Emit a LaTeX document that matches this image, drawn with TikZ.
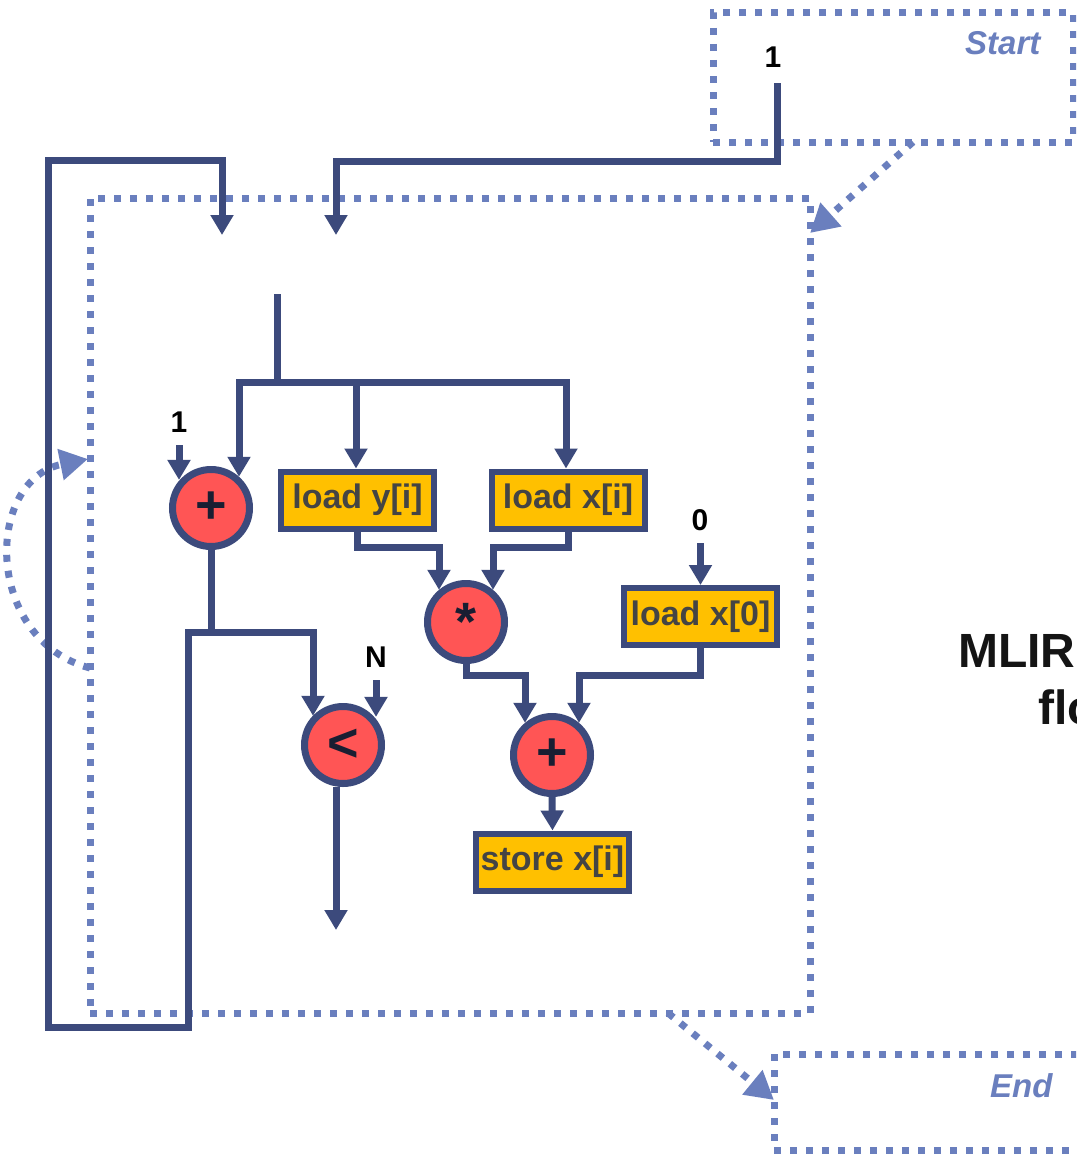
\documentclass[tikz,border=0pt]{standalone}
\usepackage{fontspec}
\setmainfont{Liberation Sans}
\usetikzlibrary{arrows.meta}
\definecolor{navy}{RGB}{60,74,124}
\definecolor{dotblue}{RGB}{106,127,190}
\definecolor{opred}{RGB}{255,85,85}
\definecolor{opyellow}{RGB}{255,192,0}
\definecolor{boxtext}{RGB}{68,68,68}
\definecolor{symcol}{RGB}{25,30,50}
\begin{document}
\begin{tikzpicture}[x=1pt,y=-1pt,
  wire/.style={draw=navy,line width=7pt},
  arr/.style={wire,-{Triangle[width=22pt,length=20pt]}},
  dotline/.style={draw=dotblue,line width=7pt,dash pattern=on 7pt off 9pt},
  dotarr/.style={dotline,-{Triangle[width=30pt,length=28pt]}},
  dotbox/.style={rectangle,dotline,inner sep=0pt},
  op/.style={circle,draw=navy,line width=7pt,fill=opred,minimum size=77pt,inner sep=0pt,text=symcol,font=\fontsize{54}{54}\selectfont\bfseries},
  inst/.style={rectangle,draw=navy,line width=6pt,fill=opyellow,minimum width=153pt,minimum height=57pt,inner sep=0pt,text=boxtext,font=\fontsize{34}{40}\selectfont\bfseries},
  lbl/.style={font=\fontsize{30}{30}\selectfont\bfseries,text=black,inner sep=0pt},
  tag/.style={font=\fontsize{33}{36}\selectfont\bfseries\itshape,text=dotblue,inner sep=0pt},
  big/.style={font=\fontsize{48}{50}\selectfont\bfseries,text={black!92},inner sep=0pt}
]
\useasboundingbox (0,0) rectangle (1076,1156);
\clip (0,0) rectangle (1076,1156);
\fill[white] (0,0) rectangle (1076,1156);

% dotted regions
\node[dotbox,minimum width=720pt,minimum height=815pt] (body) at (450,605.5) {};
\node[dotbox,minimum width=360pt,minimum height=129pt] (start) at (893,77.5) {};
\node[dotbox,minimum width=336pt,minimum height=96pt] (end) at (942,1102) {};
\node[tag,anchor=base west] (starttxt) at (965,55) {Start};
\node[tag,anchor=base west] (endtxt) at (990,1097) {End};

\coordinate (sfrom) at (913,142);
\coordinate (bto) at (810,233);
\coordinate (bfrom) at (668,1013);
\coordinate (eto) at (774,1100);
\draw[dotarr] (sfrom) -- (bto);
\draw[dotarr] (bfrom) -- (eto);
\coordinate (lpfrom) at (90,668);
\coordinate (lpto) at (88,459);
\draw[dotarr] (lpfrom) .. controls (-16,640) and (-16,480) .. (lpto);

% right-hand title (clipped at the edge as in the reference)
\node[big,anchor=base west] (mlir1) at (958,667) {MLIR};
\node[big,anchor=base west] (mlir2) at (1038,724) {flow};

% operation nodes
\node[op] (p1) at (211,508) {\raisebox{-0.17em}{+}};
\node[op] (mul) at (466,622) {\raisebox{-0.28em}{*}};
\node[op] (p2) at (552,755) {\raisebox{-0.17em}{+}};
\node[op] (lt) at (343,745) {\raisebox{-0.15em}{<}};
\node[inst] (ly) at (357.5,500) {\raisebox{-0.06em}{load y[i]}};
\node[inst] (lx) at (568,500) {\raisebox{-0.06em}{load x[i]}};
\node[inst] (l0) at (700.5,616.5) {\raisebox{-0.06em}{load x[0]}};
\node[inst] (st) at (552.5,862) {\raisebox{-0.06em}{store x[i]}};

% constant labels
\node[lbl] (one0) at (773,57) {1};
\node[lbl] (one1) at (179,422) {1};
\node[lbl] (zero) at (700,520) {0};
\node[lbl] (nn) at (376,657) {N};

% wires
\coordinate (s1) at (777,83);
\draw[arr] (s1) -- (777,161) -- (336,161) -- (336,235);

\coordinate (split) at (277,294);
\draw[wire] (split) -- (277,382);
\draw[arr] (277,382) -- (239,382) -- (239,0 |- p1.48);
\draw[arr] (277,382) -- (356,382) -- (356,0 |- ly.north);
\draw[arr] (356,382) -- (566,382) -- (566,0 |- lx.north);

\coordinate (c1) at (179,445);
\draw[arr] (c1) -- (179,0 |- p1.138);
\draw[arr] (ly.south) -- (357.5,547) -- (439,547) -- (439,0 |- mul.130);
\draw[arr] (lx.south) -- (568,547) -- (493,547) -- (493,0 |- mul.50);
\coordinate (c0) at (700.5,543);
\draw[arr] (c0) -- (l0.north);
\draw[arr] (mul.south) -- (466,675) -- (525,675) -- (525,0 |- p2.130);
\draw[arr] (l0.south) -- (700.5,675) -- (579,675) -- (579,0 |- p2.50);
\draw[arr] (p2.south) -- (st.north);
\coordinate (cn) at (376,680);
\draw[arr] (cn) -- (376,0 |- lt.42);
\draw[arr] (p1.south) -- (211,632) -- (313,632) -- (313,0 |- lt.136);
\draw[arr] (211,632) -- (188,632) -- (188,1027) -- (48,1027) -- (48,160) -- (222,160) -- (222,235);
\coordinate (ltout) at (336,930);
\draw[arr] (336,0 |- lt.south) -- (ltout);
\end{tikzpicture}
\end{document}
